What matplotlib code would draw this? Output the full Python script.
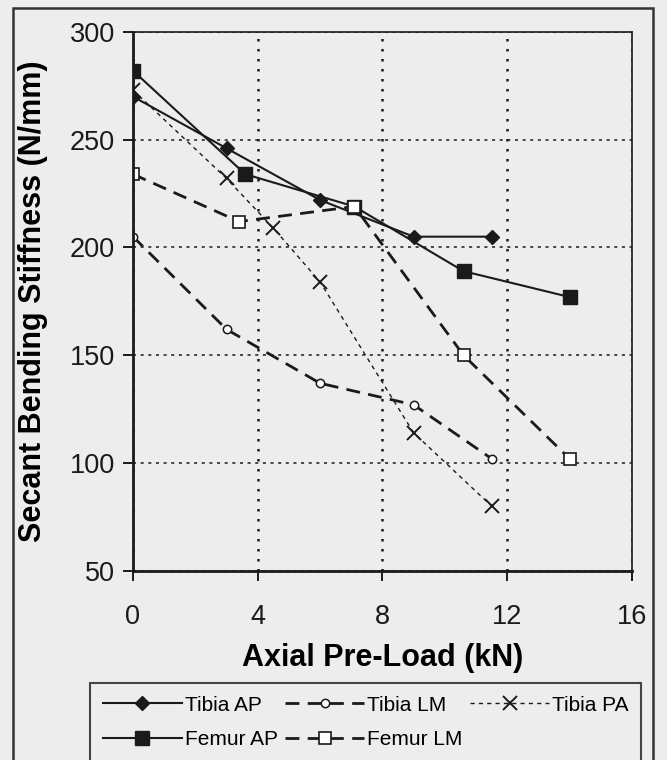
import matplotlib
matplotlib.use("Agg")
import matplotlib.pyplot as plt
from matplotlib.patches import Rectangle

plt.rcParams["font.family"] = ["Liberation Sans", "DejaVu Sans"]

# Secant bending stiffness vs axial pre-load
tibia_ap_x = [0, 3, 6, 9, 11.5]
tibia_ap_y = [270, 246, 222, 205, 205]

femur_ap_x = [0, 3.6, 7.1, 10.6, 14]
femur_ap_y = [282, 234, 219, 189, 177]

tibia_lm_x = [0, 3, 6, 9, 11.5]
tibia_lm_y = [205, 162, 137, 127, 102]

femur_lm_x = [0, 3.4, 7.1, 10.6, 14]
femur_lm_y = [234, 212, 219, 150, 102]

tibia_pa_x = [0, 3, 4.5, 6, 9, 11.5]
tibia_pa_y = [273, 232, 209, 184, 114, 80]

xticks = [0, 4, 8, 12, 16]
yticks = [50, 100, 150, 200, 250, 300]

ink = "#1a1a1a"
bg = "#ededed"
fig = plt.figure(figsize=(6.67, 7.60), dpi=100, facecolor=bg)
ax = fig.add_axes([0.1994, 0.249, 0.748, 0.709], facecolor=bg)

# outer frame of the scanned figure
fig.patches.append(Rectangle((0.0195, -0.01), 0.96, 0.9995, transform=fig.transFigure,
                             fill=False, lw=1.8, ec="#333333"))

ax.plot(tibia_ap_x, tibia_ap_y, "-", color=ink, lw=1.5,
        marker="D", ms=7.5, mfc=ink, label="Tibia AP")
ax.plot(femur_ap_x, femur_ap_y, "-", color=ink, lw=1.5,
        marker="s", ms=10, mfc=ink, label="Femur AP")
ax.plot(tibia_lm_x, tibia_lm_y, "--", color=ink, lw=2.0, dashes=(5, 3),
        marker="o", ms=6, mfc="white", mew=1.1, label="Tibia LM")
ax.plot(femur_lm_x, femur_lm_y, "--", color=ink, lw=2.0, dashes=(5, 3),
        marker="s", ms=8, mfc="white", mew=1.2, label="Femur LM")
ax.plot(tibia_pa_x, tibia_pa_y, "--", color=ink, lw=1.0, dashes=(3, 3),
        marker="x", ms=10, mew=1.4, label="Tibia PA")

ax.set_xlim(0, 16)
ax.set_ylim(50, 300)
ax.set_xticks(xticks)
ax.set_yticks(yticks)
ax.tick_params(axis="both", direction="out", length=7, width=1.4,
               labelsize=19.5, colors=ink)
ax.tick_params(axis="y", pad=6)
ax.tick_params(axis="x", pad=17)

ax.grid(True, axis="x", ls=(0, (1, 3)), lw=1.8, color=ink)
ax.grid(True, axis="y", ls=(0, (2, 3)), lw=1.1, color=ink)
ax.set_axisbelow(True)

for side in ["left", "bottom"]:
    ax.spines[side].set_linewidth(2.0)
    ax.spines[side].set_color(ink)
for side in ["top", "right"]:
    ax.spines[side].set_linewidth(1.2)
    ax.spines[side].set_color(ink)

ax.set_xlabel("Axial Pre-Load (kN)", fontsize=22, fontweight="bold")
ax.set_ylabel("Secant Bending Stiffness (N/mm)", fontsize=22, fontweight="bold")
ax.xaxis.set_label_coords(0.5, -0.134)
ax.yaxis.set_label_coords(-0.170, 0.5)

handles, labels = ax.get_legend_handles_labels()
leg = fig.legend(handles, labels,
                 ncol=3, loc="upper left", bbox_to_anchor=(0.135, 0.1013),
                 frameon=True, fancybox=False, edgecolor=ink,
                 facecolor=bg, fontsize=15, handlelength=3.8,
                 handletextpad=0.15, columnspacing=0.35, borderpad=0.6,
                 borderaxespad=0, labelspacing=0.75)
leg.get_frame().set_linewidth(1.5)

fig.savefig("out.png", dpi=100, facecolor=bg)
